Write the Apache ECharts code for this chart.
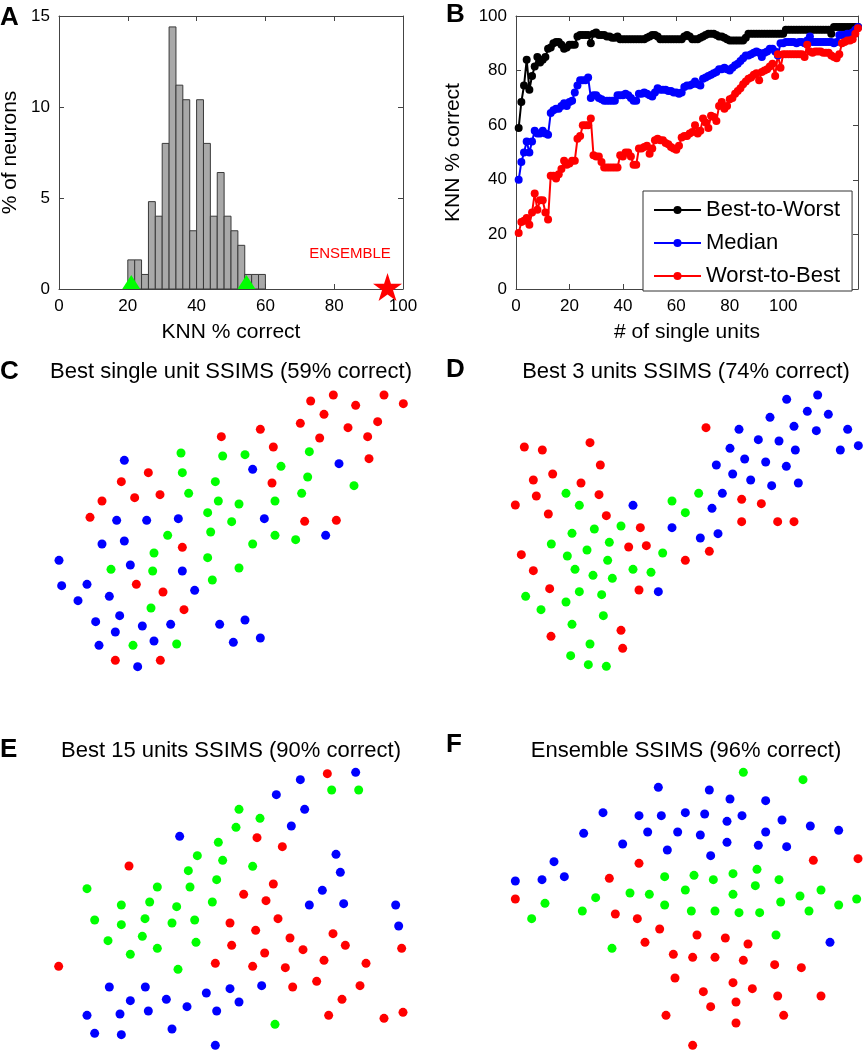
<!DOCTYPE html>
<html>
<head>
<meta charset="utf-8">
<script src="https://cdn.jsdelivr.net/npm/echarts@6/dist/echarts.min.js"></script>
<style>
  html, body { margin: 0; padding: 0; background: #fff; }
  #main { width: 863px; height: 1050px; }
</style>
</head>
<body>
<div id="main"></div>
<script>
var FONT = 'Liberation Sans, Arial, Helvetica, sans-serif';

// A: histogram of single-neuron KNN accuracy (bins of 2%)
var binLeft = [20, 22, 24, 26, 28, 30, 32, 34, 36, 38, 40, 42, 44, 46, 48, 50, 52, 54, 56, 58];
var pctNeurons = [1.6, 1.6, 0.8, 4.8, 4.0, 8.0, 14.4, 11.2, 10.4, 3.2, 10.4, 8.0, 4.0, 6.4, 4.0, 3.2, 2.4, 0.8, 0.8, 0.8];
var rangeMarks = [21, 54.5];   // green triangles
var ensembleScore = 95.5;      // red star

// B: KNN % correct vs number of single units
var curveNames = ['Best-to-Worst', 'Median', 'Worst-to-Best'];
var bestToWorst = [59, 68.5, 74.5, 84, 73, 78, 81.5, 85, 83, 84, 85, 88, 88.5, 90, 90.5, 90.5, 89.5, 88, 88.5, 89.5,
  89.5, 89.5, 92.5, 93, 93, 93, 93, 90, 93.5, 94, 93, 93, 93, 92.5, 92.5, 92, 92, 92.5, 91.5, 91.5,
  91.5, 91.5, 91.5, 91.5, 91.5, 91.5, 91.5, 91.5, 92, 92.5, 93, 93, 92.5, 91.5, 91.5, 91.5, 91.5, 91.5, 91.5, 91.5,
  91.5, 91.5, 92.5, 93, 92.5, 91.5, 91.5, 91.5, 92, 92.5, 93, 93.5, 93.5, 93.5, 93, 92.5, 92.5, 92, 91.5, 91,
  91, 91, 91, 91, 91, 92, 93.5, 93.5, 93.5, 93.5, 93.5, 93.5, 93.5, 93.5, 93.5, 93.5, 93.5, 93.5, 93.5, 93.5,
  95, 95, 95, 95, 95, 95, 95, 95, 95, 95, 95, 95, 95, 95, 95, 95, 95, 93.5, 96, 96,
  96, 96, 96, 96, 96, 96, 96, 96];
var median = [40, 46.5, 50, 54, 50, 54, 58, 57, 57, 58, 57, 56.5, 64.5, 65.5, 66, 66, 67, 68, 67, 68.5,
  69, 72, 74.5, 76.5, 76.5, 76.5, 77.5, 70, 71, 71, 70, 69.5, 69, 69, 69, 69, 69, 71, 71, 71,
  71.5, 71, 70, 69, 69, 71.5, 71.5, 72, 71.5, 71, 70.5, 72, 73.5, 73, 73, 73, 72.5, 72.5, 72, 72,
  71.5, 72, 74, 74.5, 74.5, 75, 76, 75, 74.5, 77, 77.5, 78, 78.5, 79, 79.5, 80.5, 80.5, 81, 80.5, 80,
  81, 82, 82.5, 83.5, 84.5, 85.5, 85.5, 86, 86.5, 87, 86.5, 85, 86.5, 87, 88, 88, 87, 85.5, 90, 90,
  90.5, 90.5, 90.5, 90.5, 90, 90.5, 90.5, 90, 91, 92.5, 90.5, 90.5, 90.5, 90.5, 90.5, 90.5, 90.5, 90.5, 90, 90.5,
  93, 93, 93, 93.5, 93.5, 94, 95, 96];
var worstToBest = [20.5, 24.5, 25, 26, 23.5, 28, 35, 29, 32.5, 32.5, 28, 25.5, 41.5, 41.5, 40.5, 42, 44, 47, 45.5, 46,
  47, 47, 55, 56, 60, 60, 60, 62.5, 49, 48.5, 48.5, 46.5, 44.5, 44.5, 44.5, 44.5, 44.5, 44.5, 49, 48.5,
  50, 50, 48.5, 45.5, 45.5, 51.5, 51.5, 52, 52.5, 49.5, 51.5, 54.5, 55, 54.5, 54.5, 53.5, 53, 52, 51.5, 51,
  52.5, 55.5, 56, 56, 57, 57.5, 60, 57, 58, 62.5, 61, 59, 63.5, 63, 61.5, 67, 68.5, 66, 67, 69.5,
  70, 71.5, 72.5, 73.5, 75, 76, 77, 77.5, 78.5, 79, 76.5, 79.5, 80, 80.5, 81.5, 82.5, 78, 86, 81, 86,
  86, 86, 86, 86, 86, 86, 86, 85, 89.5, 87, 86.5, 87, 87, 87, 86.5, 86.5, 86.5, 85.5, 85, 84.5,
  86, 90, 90.5, 91, 91, 91.5, 93.5, 95.5];
var unitTicks = [0, 20, 40, 60, 80, 100];

// C-F: SSIMS embeddings (dim1, dim2), one list per class
var cRed = [[93.2,24.3],[100,22.5],[106.7,25.6],[115.2,22.5],[121,25.1],[97.2,28.3],[90.1,31],[104.4,32.3],[113.3,30.5],[78.1,32.8],[66.4,35],[95.9,35.4],[110.3,35],[82,38.1],[110.7,41.6],[44.5,45.8],[36.4,48.5],[81.6,48.9],[40.4,53.3],[48,52.4],[30.6,54.3],[27,59.2],[91.4,60.4],[100.9,60.1],[54.7,68.2],[40.9,79.3],[48.9,81.6],[55.2,86.9],[34.6,102.1],[48.1,102.1]];
var cBlue = [[37.3,42.1],[75.8,44.8],[101.7,43.1],[35,60.1],[44,60.1],[53.5,59.6],[79.3,59.6],[30.6,67.2],[37.3,66.3],[97.7,64.6],[17.7,72.1],[39.1,73.5],[54.7,75.3],[18.5,79.7],[26.1,79.3],[32.8,82.9],[58.4,81.1],[23.4,84.2],[35.9,88.7],[28.7,90.5],[34.6,93.6],[42.7,91.8],[51.2,91.3],[65.9,91.3],[73.5,90],[29.7,97.6],[46.2,96.3],[70,96.7],[78.1,95.4],[41.3,104]];
var cGreen = [[54.3,39.9],[66.8,40.8],[73.5,40.4],[92.8,39.5],[54.7,45.8],[84.3,43.9],[64.6,48.5],[92.3,47.1],[56.6,52],[106.2,49.7],[65.5,54.3],[71.7,55.2],[82.5,54.3],[90.5,52],[62.3,57.8],[69.5,60.5],[63.2,63.6],[50.3,64.6],[82.5,64.6],[88.7,65.9],[46.2,69.9],[75.8,67.2],[62.3,71.3],[33.3,74.8],[45.8,75.3],[71.7,74.4],[63.7,78],[45.3,86.4],[39.9,97.6],[53,97.2]];

var dRed = [[82.8,32.3],[28.3,38.1],[33.7,39],[48,36.8],[51.1,43.5],[36.8,46.2],[31,48],[45.3,48.9],[31.9,52.8],[50.7,52.4],[25.6,55.5],[35.5,58.2],[52.9,58.7],[63.1,62.3],[59.6,68.1],[64.9,67.7],[93.5,53.8],[99.4,55.1],[93.5,60.5],[104.3,60.5],[109.2,60.5],[83.8,69.4],[76.6,72.1],[27.4,70.4],[31,75.2],[35.9,80.6],[62.7,81],[36.3,94.9],[57.3,93.1],[57.8,98.5]];
var dBlue = [[107,23.8],[116.3,22.5],[102,29.2],[113.2,27.4],[119.5,28.3],[92.7,32.8],[109.2,31.9],[115.9,33.2],[125.3,32.8],[98.5,35.9],[104.7,36.3],[90,38.5],[109.6,39],[123.1,39],[128.5,37.7],[94.4,41.7],[100.7,42.6],[106.9,43.9],[85.9,43.5],[90.8,46.2],[96.2,48],[102.5,49.7],[110.5,48.9],[87.7,52],[84.6,56.5],[60.9,55.6],[72.6,62.3],[81.1,65.4],[86.4,64.1],[68.5,81.5]];
var dGreen = [[40.8,52],[44.8,55.6],[80.6,52],[72.6,54.3],[76.6,57.8],[57.3,61.8],[49.3,62.7],[42.6,64],[36.4,67.2],[53.8,66.7],[47.1,69],[41.2,70.8],[53.3,72.1],[69.8,69.9],[43.5,74.8],[48.9,76.6],[54.7,77.5],[60.9,74.8],[66.3,75.7],[44.8,81.5],[51.5,82.4],[28.7,82.9],[40.8,84.6],[33.3,86.9],[52,88.7],[42.6,91.3],[48,97.2],[42.2,100.7],[47.5,103.4],[52.9,103.9]];

var eRed = [[98.2,25.1],[77.1,44.3],[84.7,47],[38.7,52.8],[82,58.2],[73.1,61.3],[79.8,63.2],[83.4,68.6],[69,69.9],[76.7,72.1],[99.9,73.1],[87,74.4],[69.5,76.6],[103.6,76.6],[90.9,77.9],[79.4,78.9],[120.5,77.5],[17.6,82.9],[64.6,82],[75.8,82.9],[85.6,83.3],[97.2,81.1],[109.8,82],[87.8,89.1],[95,87.4],[108,88.7],[102.6,92.8],[98.6,97.6],[115.2,98.5],[120.9,96.7]];
var eBlue = [[90.1,26.9],[106.7,24.7],[82.9,31.4],[91.4,35.8],[87.4,40.8],[53.9,43.9],[100.8,49.3],[102.1,54.7],[96.7,60.1],[92.8,64.5],[103.1,64.1],[118.7,64.5],[119.6,70.8],[32.8,89.1],[43.6,89.1],[39.1,93.2],[49.9,92.8],[61.9,90.9],[69,89.6],[78.5,88.7],[71.7,93.6],[26.1,97.6],[36,97.2],[44.5,96.3],[56.1,95],[65,96.3],[28.4,103],[36.4,103.4],[51.6,101.7],[64.6,106.6]];
var eGreen = [[99.5,30],[107.6,30],[71.7,35.8],[78,38.5],[70.8,41.2],[65.5,45.7],[59.2,49.7],[66.8,51.1],[75.8,52.9],[56.5,54.2],[65,56.9],[26.1,59.6],[47.2,59.1],[57,59.1],[63.7,63.6],[36.4,64.5],[44.9,63.6],[53,65],[28.4,69],[36.4,70.4],[43.5,68.6],[51.6,69.9],[58.4,69],[32.4,75.2],[42.7,73.9],[47.2,77.5],[58.8,75.7],[39.1,79.3],[53.4,83.8],[82.5,100.3]];

var fRed = [[62.7,52],[53.8,56.5],[115,51.1],[128.4,50.6],[25.6,62.7],[55.6,67.2],[62.2,68.6],[68.9,71.7],[64.5,75.7],[80.1,73.5],[88.6,74.4],[95.4,76.2],[73,79.3],[78.8,80.2],[85.5,80.2],[94,81.1],[103.4,82.4],[111.4,83.3],[73.5,86.4],[90.9,87.8],[96.7,89.6],[82,90.5],[91.8,93.6],[84.2,95],[104.3,91.8],[117.3,91.8],[70.8,97.6],[91.8,99.9],[106.1,97.6],[78.8,106.6]];
var fBlue = [[68.5,29.2],[83.8,30],[90,32.7],[100.7,33.2],[51.9,36.8],[62.7,37.7],[69.4,37.7],[76.6,36.8],[82.4,37.2],[89.1,39.4],[93.6,37.7],[105.6,39],[114.1,40.8],[122.6,42.1],[46.1,43],[65.3,42.6],[74.3,42.6],[81.1,43.5],[100.7,42.6],[57.8,46.2],[71.2,48],[89.1,45.7],[98.5,46.6],[107,47],[84.2,49.7],[37.2,51.5],[25.6,57.3],[33.6,56.9],[40.3,56],[120,75.7]];
var fGreen = [[94,24.7],[111.9,26.9],[70.4,56],[79.2,55.6],[85,56.9],[90.9,55.1],[98.1,53.8],[104.7,56.9],[97.6,58.7],[76.6,60],[90.9,61.3],[65.8,61.3],[60,60.9],[49.7,62.3],[105.2,63.6],[111,61.8],[117.3,60],[122.6,64.5],[128,62.7],[113.7,66.3],[34.5,64],[30.5,68.6],[45.7,66.3],[70.4,64.5],[78.4,66.3],[85.5,66.3],[92.7,66.8],[98.9,66.8],[103.8,73.5],[54.6,77.5]];

var panelTitles = ['Best single unit SSIMS (59% correct)', 'Best 3 units SSIMS (74% correct)',
  'Best 15 units SSIMS (90% correct)', 'Ensemble SSIMS (96% correct)'];

var RED = '#ff0000', GREEN = '#00ff00', BLUE = '#0000ff';
var axisColor = '#444';
var starPath = 'path://M50 0 L61.23 34.55 L97.55 34.55 L68.17 55.9 L79.39 90.45 L50 69.1 L20.61 90.45 L31.83 55.9 L2.45 34.55 L38.77 34.55 Z';

function withUnits(arr) {
  return arr.map(function (v, i) { return [i + 1, v]; });
}

// box-style axis (MATLAB look): inward ticks, labels only on bottom/left
function boxAxis(gridIndex, position, min, max, interval, showLabel, extra) {
  var ax = {
    type: 'value', gridIndex: gridIndex, position: position,
    min: min, max: max, interval: interval,
    axisLine: { show: true, onZero: false, lineStyle: { color: axisColor, width: 1 } },
    axisTick: { show: true, inside: true, length: 5, lineStyle: { color: axisColor } },
    axisLabel: { show: showLabel, color: '#000', fontSize: 17, fontFamily: FONT, margin: 9 },
    splitLine: { show: false }
  };
  if (extra && extra.ticks) {
    ax.axisTick.customValues = extra.ticks;
    ax.axisLabel.customValues = extra.ticks;
  }
  if (extra && extra.name) {
    ax.name = extra.name;
    ax.nameLocation = 'middle';
    ax.nameGap = extra.gap;
    ax.nameTextStyle = { fontSize: 21, fontFamily: FONT, color: '#000' };
  }
  return ax;
}

function hiddenAxis(gridIndex, max, inverse) {
  return { type: 'value', gridIndex: gridIndex, min: 0, max: max, inverse: !!inverse, show: false, splitLine: { show: false } };
}

function dots(name, data, color, idx) {
  return {
    name: name, type: 'scatter', xAxisIndex: idx, yAxisIndex: idx, data: data,
    symbol: 'circle', symbolSize: 9, itemStyle: { color: color, opacity: 1 }, clip: false, silent: true
  };
}

function curve(name, values, color) {
  return {
    name: name, type: 'line', xAxisIndex: 2, yAxisIndex: 2, data: withUnits(values),
    symbol: 'circle', symbolSize: 8, showSymbol: true,
    lineStyle: { color: color, width: 2 }, itemStyle: { color: color, opacity: 1 }, color: color
  };
}

var chart = echarts.init(document.getElementById('main'), null, { renderer: 'canvas' });

var gridBase = { containLabel: false, outerBoundsMode: 'none' };
var option = {
  backgroundColor: '#fff',
  animation: false,
  textStyle: { fontFamily: FONT },
  grid: [
    Object.assign({ left: 59, top: 16, width: 344, height: 273 }, gridBase),
    Object.assign({ left: 516, top: 16, width: 342, height: 273 }, gridBase),
    Object.assign({ left: 0, top: 320, width: 430, height: 370 }, gridBase),
    Object.assign({ left: 430, top: 320, width: 433, height: 370 }, gridBase),
    Object.assign({ left: 0, top: 690, width: 430, height: 360 }, gridBase),
    Object.assign({ left: 430, top: 690, width: 433, height: 360 }, gridBase)
  ],
  xAxis: [
    boxAxis(0, 'bottom', 0, 100, 20, true, { name: 'KNN % correct', gap: 33 }),
    boxAxis(0, 'top', 0, 100, 20, false),
    boxAxis(1, 'bottom', 0, 128, 20, true, { name: '# of single units', gap: 33, ticks: unitTicks }),
    boxAxis(1, 'top', 0, 128, 20, false, { ticks: unitTicks }),
    hiddenAxis(2, 129), hiddenAxis(3, 129.9), hiddenAxis(4, 129), hiddenAxis(5, 129.9)
  ],
  yAxis: [
    boxAxis(0, 'left', 0, 15, 5, true, { name: '% of neurons', gap: 38 }),
    boxAxis(0, 'right', 0, 15, 5, false),
    boxAxis(1, 'left', 0, 100, 20, true, { name: 'KNN % correct', gap: 52 }),
    boxAxis(1, 'right', 0, 100, 20, false),
    hiddenAxis(2, 111, true), hiddenAxis(3, 111, true), hiddenAxis(4, 108, true), hiddenAxis(5, 108, true)
  ],
  legend: {
    data: curveNames,
    orient: 'vertical', left: 643, top: 191,
    padding: [8, 12, 4, 10],
    itemGap: 11, itemWidth: 47, itemHeight: 10,
    borderColor: '#333', borderWidth: 1, backgroundColor: '#fff', borderRadius: 0,
    textStyle: { fontSize: 22, fontFamily: FONT, color: '#000', lineHeight: 22 },
    selectedMode: false
  },
  graphic: [],
  series: [
    {
      name: 'hist', type: 'custom', xAxisIndex: 0, yAxisIndex: 0, silent: true,
      data: binLeft.map(function (b, i) { return [b, pctNeurons[i]]; }),
      renderItem: function (params, api) {
        var p0 = api.coord([api.value(0), api.value(1)]);
        var p1 = api.coord([api.value(0) + 2, 0]);
        return {
          type: 'rect',
          shape: { x: p0[0], y: p0[1], width: p1[0] - p0[0], height: p1[1] - p0[1] },
          style: { fill: '#a9a9a9', stroke: '#3a3a3a', lineWidth: 1 }
        };
      }
    },
    {
      name: 'range', type: 'scatter', xAxisIndex: 0, yAxisIndex: 0, clip: false, silent: true, z: 5,
      data: rangeMarks.map(function (v) { return [v, 0]; }),
      symbol: 'triangle', symbolSize: [18, 14], symbolOffset: [0, -7],
      itemStyle: { color: GREEN, opacity: 1 }
    },
    {
      name: 'ensemble', type: 'scatter', xAxisIndex: 0, yAxisIndex: 0, clip: false, silent: true, z: 5,
      data: [[ensembleScore, 0]],
      symbol: starPath, symbolSize: [29, 28], symbolOffset: [0, -2],
      itemStyle: { color: RED, opacity: 1 }
    },
    curve(curveNames[0], bestToWorst, '#000000'),
    curve(curveNames[1], median, BLUE),
    curve(curveNames[2], worstToBest, RED),
    dots('c-red', cRed, RED, 4), dots('c-blue', cBlue, BLUE, 4), dots('c-green', cGreen, GREEN, 4),
    dots('d-red', dRed, RED, 5), dots('d-blue', dBlue, BLUE, 5), dots('d-green', dGreen, GREEN, 5),
    dots('e-red', eRed, RED, 6), dots('e-blue', eBlue, BLUE, 6), dots('e-green', eGreen, GREEN, 6),
    dots('f-red', fRed, RED, 7), dots('f-blue', fBlue, BLUE, 7), dots('f-green', fGreen, GREEN, 7)
  ]
};

// panel letters and titles
var letters = [['A', 0, 18], ['B', 446, 15], ['C', 0, 372], ['D', 446, 370], ['E', 0, 750], ['F', 446, 745]];
letters.forEach(function (l) {
  option.graphic.push({
    type: 'text', x: l[1], y: l[2], silent: true,
    style: { text: l[0], fontSize: 26, fontWeight: 'bold', fontFamily: FONT, fill: '#000', textAlign: 'left', textVerticalAlign: 'middle' }
  });
});
var titlePos = [[231, 372], [686, 372], [231, 751], [686, 751]];
panelTitles.forEach(function (t, i) {
  option.graphic.push({
    type: 'text', x: titlePos[i][0], y: titlePos[i][1], silent: true,
    style: { text: t, fontSize: 22, fontFamily: FONT, fill: '#000', textAlign: 'center', textVerticalAlign: 'middle' }
  });
});
option.graphic.push({
  type: 'text', x: 350, y: 254, silent: true,
  style: { text: 'ENSEMBLE', fontSize: 15, fontFamily: FONT, fill: RED, textAlign: 'center', textVerticalAlign: 'middle' }
});

chart.setOption(option);
</script>
</body>
</html>
